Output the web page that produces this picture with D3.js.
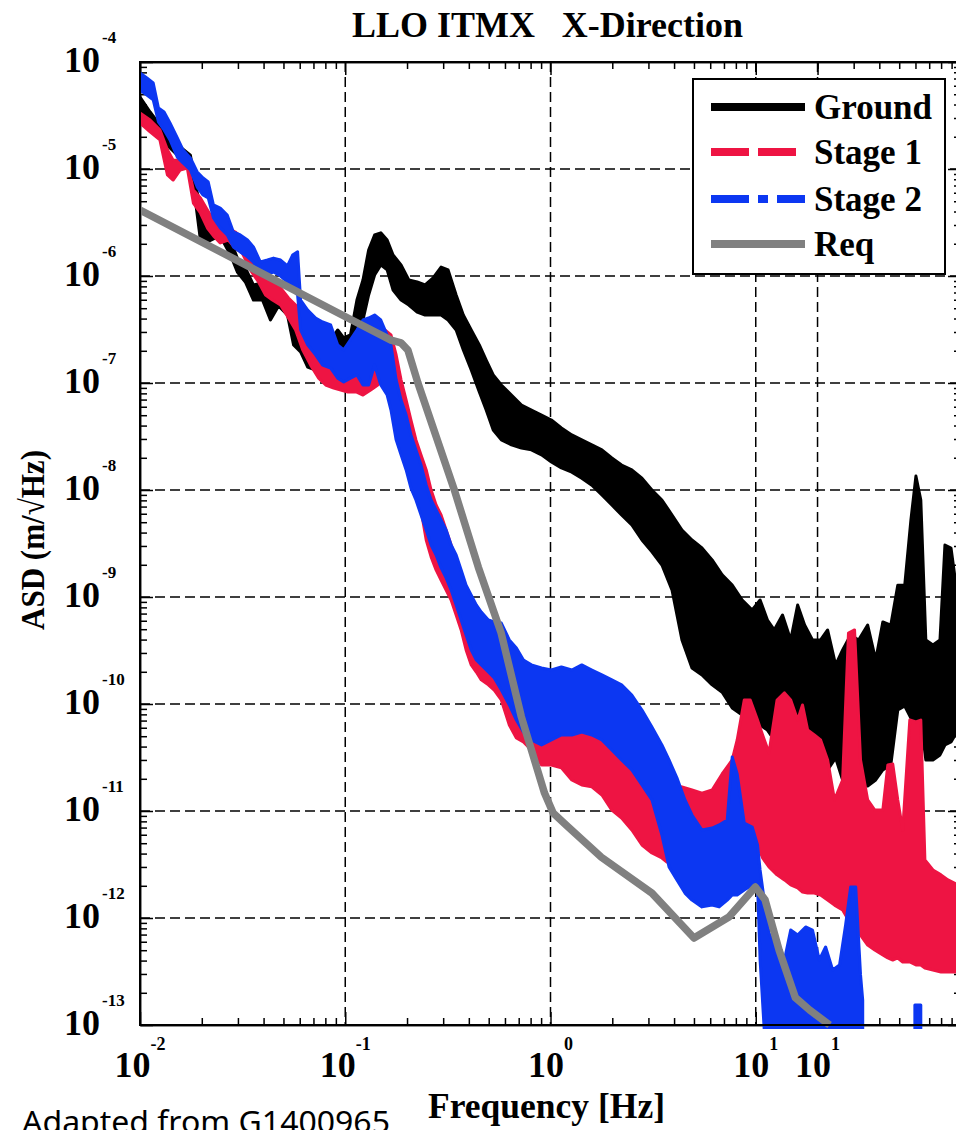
<!DOCTYPE html>
<html><head><meta charset="utf-8">
<script src="https://cdn.jsdelivr.net/npm/d3@7"></script>
<style>body{margin:0;background:#fff;} svg{display:block;}</style>
</head><body>
<script>
// ---- DATA ----
// band series: [frequency Hz, upper ASD, lower ASD]
const groundBand = [
[0.0100,4.71e-5,3.56e-5],[0.0112,3.41e-5,2.58e-5],[0.0125,2.58e-5,1.95e-5],[0.0140,1.95e-5,1.57e-5],
[0.0157,1.61e-5,1.27e-5],[0.0176,1.35e-5,1.09e-5],[0.0186,7.08e-6,5.13e-6],[0.0197,4.61e-6,2.17e-6],
[0.0213,2.81e-6,2.08e-6],[0.0233,2.81e-6,2.27e-6],[0.0252,2.81e-6,2.17e-6],[0.0276,2.17e-6,1.57e-6],
[0.0298,1.47e-6,1.09e-6],[0.0326,1.19e-6,8.79e-7],[0.0357,8.24e-7,5.96e-7],[0.0395,8.60e-7,5.96e-7],
[0.0432,6.64e-7,3.88e-7],[0.0473,6.50e-7,5.24e-7],[0.0523,5.96e-7,4.32e-7],[0.0560,3.49e-7,2.27e-7],
[0.0606,3.00e-7,1.95e-7],[0.0656,2.27e-7,1.41e-7],[0.0717,2.04e-7,1.32e-7],[0.0776,2.27e-7,1.57e-7],
[0.0849,2.53e-7,1.71e-7],[0.0919,3.13e-7,2.04e-7],[0.0983,2.64e-7,1.75e-7],[0.106,2.81e-7,1.83e-7],
[0.114,5.96e-7,2.53e-7],[0.122,9.18e-7,3.88e-7],[0.130,1.75e-6,6.64e-7],[0.139,2.42e-6,1.02e-6],
[0.149,2.53e-6,1.27e-6],[0.160,2.17e-6,1.14e-6],[0.171,1.57e-6,7.40e-7],[0.187,1.27e-6,5.96e-7],
[0.204,9.18e-7,5.36e-7],[0.224,8.79e-7,4.61e-7],[0.245,8.24e-7,4.32e-7],[0.268,9.58e-7,4.32e-7],
[0.293,1.21e-6,4.32e-7],[0.317,1.14e-6,3.88e-7],[0.347,6.64e-7,3.13e-7],[0.376,4.32e-7,2.04e-7],
[0.411,3.13e-7,1.32e-7],[0.450,2.27e-7,8.24e-8],[0.486,1.64e-7,5.59e-8],[0.526,1.19e-7,3.64e-8],
[0.576,9.58e-8,2.94e-8],[0.645,7.72e-8,2.64e-8],[0.722,6.23e-8,2.47e-8],[0.807,5.59e-8,2.37e-8],
[0.904,5.02e-8,2.13e-8],[1.01,4.51e-8,1.83e-8],[1.13,3.80e-8,1.61e-8],[1.27,3.27e-8,1.47e-8],
[1.42,2.94e-8,1.29e-8],[1.59,2.64e-8,1.11e-8],[1.78,2.37e-8,8.98e-9],[1.99,1.99e-8,7.24e-9],
[2.22,1.71e-8,5.84e-9],[2.49,1.54e-8,4.71e-9],[2.79,1.29e-8,3.41e-9],[3.12,1.00e-8,2.64e-9],
[3.49,8.06e-9,1.99e-9],[3.91,5.84e-9,1.16e-9],[4.37,4.23e-9,3.97e-10],[4.89,3.41e-9,2.17e-10],
[5.47,2.87e-9,1.87e-10],[6.13,2.22e-9,1.51e-10],[6.86,1.61e-9,1.29e-10],[7.68,1.29e-9,9.18e-11],
[8.59,9.38e-10,7.89e-11],[9.61,7.56e-10,7.08e-11],[10.5,9.38e-10,6.36e-11],[11.4,6.09e-10,5.71e-11],
[12.3,4.92e-10,4.61e-11],[13.5,6.79e-10,4.14e-11],[14.8,3.97e-10,4.14e-11],[16.0,8.42e-10,3.72e-11],
[17.3,5.47e-10,4.14e-11],[18.9,3.97e-10,3.00e-11],[20.7,3.97e-10,2.87e-11],[22.4,4.92e-10,2.42e-11],
[24.5,2.32e-10,3.13e-11],[26.5,3.20e-10,1.95e-11],[29.0,4.42e-10,1.68e-11],[31.7,3.97e-10,1.71e-11],
[35.1,5.47e-10,1.71e-11],[38.4,2.58e-10,1.95e-11],[41.6,5.84e-10,2.42e-11],[45.5,5.47e-10,2.69e-11],
[49.2,1.29e-9,8.79e-11],[53.2,1.29e-9,9.58e-11],[57.0,5.24e-9,7.40e-11],[60.3,1.35e-8,7.08e-11],
[63.7,8.06e-9,7.08e-11],[67.4,3.97e-10,3.00e-11],[73.0,3.56e-10,3.00e-11],[79.0,3.97e-10,3.34e-11],
[83.5,3.06e-9,4.14e-11],[89.4,2.87e-9,4.42e-11],[96.7,9.38e-10,5.71e-11]
];
const stage1Band = [
[0.0100,3.34e-5,2.69e-5],[0.0112,2.87e-5,2.22e-5],[0.0125,2.32e-5,1.87e-5],[0.0136,1.51e-5,8.79e-6],
[0.0145,1.21e-5,7.89e-6],[0.0157,1.21e-5,9.79e-6],[0.0170,1.16e-5,1.02e-5],[0.0182,6.36e-6,4.81e-6],
[0.0197,5.36e-6,3.88e-6],[0.0213,4.14e-6,2.81e-6],[0.0228,3.34e-6,2.37e-6],[0.0246,2.69e-6,2.04e-6],
[0.0269,2.81e-6,2.17e-6],[0.0291,2.58e-6,1.83e-6],[0.0315,2.27e-6,1.64e-6],[0.0345,1.57e-6,1.14e-6],
[0.0378,1.27e-6,8.79e-7],[0.0409,1.02e-6,6.64e-7],[0.0442,8.79e-7,5.96e-7],[0.0484,7.72e-7,5.36e-7],
[0.0529,6.23e-7,4.05e-7],[0.0573,5.36e-7,3.13e-7],[0.0620,3.88e-7,2.04e-7],[0.0678,2.81e-7,1.47e-7],
[0.0742,2.27e-7,1.11e-7],[0.0803,1.83e-7,9.58e-8],[0.0879,1.64e-7,8.98e-8],[0.0951,1.47e-7,8.60e-8],
[0.103,1.38e-7,8.24e-8],[0.113,1.64e-7,8.24e-8],[0.122,2.04e-7,7.72e-8],[0.133,2.27e-7,8.60e-8],
[0.144,3.13e-7,9.58e-8],[0.156,3.13e-7,1.32e-7],[0.167,2.81e-7,9.58e-8],[0.177,1.83e-7,4.51e-8],
[0.187,1.07e-7,2.64e-8],[0.198,6.93e-8,1.91e-8],[0.209,4.51e-8,1.44e-8],[0.221,2.94e-8,1.00e-8],
[0.234,2.13e-8,6.50e-9],[0.248,1.54e-8,3.41e-9],[0.262,1.00e-8,2.37e-9],[0.277,7.24e-9,1.79e-9],
[0.293,5.84e-9,1.44e-9],[0.310,4.23e-9,1.16e-9],[0.328,3.06e-9,9.38e-10],[0.347,2.22e-9,6.79e-10],
[0.367,1.61e-9,4.92e-10],[0.388,1.16e-9,3.20e-10],[0.411,8.42e-10,2.32e-10],[0.435,6.79e-10,1.99e-10],
[0.460,5.47e-10,1.68e-10],[0.498,3.97e-10,1.51e-10],[0.532,3.20e-10,1.35e-10],[0.576,2.32e-10,1.09e-10],
[0.630,1.68e-10,6.36e-11],[0.682,1.35e-10,4.81e-11],[0.738,1.09e-10,4.42e-11],[0.807,7.08e-11,3.72e-11],
[0.904,5.96e-11,2.69e-11],[1.01,6.36e-11,2.69e-11],[1.13,7.08e-11,2.53e-11],[1.27,7.40e-11,1.95e-11],
[1.42,6.79e-11,1.75e-11],[1.59,5.71e-11,1.68e-11],[1.78,5.13e-11,1.41e-11],[1.99,4.14e-11,1.02e-11],
[2.22,3.56e-11,8.60e-12],[2.49,3.34e-11,6.64e-12],[2.79,2.69e-11,4.81e-12],[3.12,2.42e-11,4.05e-12],
[3.49,2.04e-11,3.64e-12],[3.69,2.04e-11,3.34e-12],[3.91,1.75e-11,3.34e-12],[4.37,1.68e-11,5.36e-12],
[4.89,1.57e-11,6.23e-12],[5.47,1.47e-11,6.23e-12],[6.13,1.57e-11,6.64e-12],[6.86,2.22e-11,7.40e-12],
[7.68,3.00e-11,8.24e-12],[8.12,4.61e-11,9.18e-12],[8.79,1.09e-10,6.64e-12],[9.40,1.09e-10,6.64e-12],
[10.2,7.08e-11,4.81e-12],[10.8,5.13e-11,3.64e-12],[11.6,3.49e-11,3.00e-12],[12.7,1.09e-10,2.53e-12],
[13.8,1.27e-10,2.27e-12],[14.8,1.09e-10,2.04e-12],[16.0,7.08e-11,1.91e-12],[16.9,9.79e-11,1.75e-12],
[17.9,5.71e-11,1.71e-12],[19.3,5.13e-11,1.71e-12],[20.7,4.61e-11,1.64e-12],[22.4,3.00e-11,1.47e-12],
[24.2,1.27e-11,1.32e-12],[26.5,1.95e-11,1.19e-12],[28.3,4.61e-10,9.58e-13],[30.3,4.92e-10,7.72e-13],
[32.4,3.00e-11,6.93e-13],[35.1,1.27e-11,5.59e-13],[38.0,1.02e-11,5.02e-13],[41.6,1.02e-11,4.51e-13],
[44.0,2.69e-11,4.23e-13],[46.5,2.75e-11,4.05e-13],[49.2,1.27e-11,4.23e-13],[52.0,6.64e-12,3.88e-13],
[56.3,7.08e-11,3.88e-13],[60.3,6.79e-11,3.64e-13],[63.7,7.08e-11,3.64e-13],[66.7,3.49e-12,3.41e-13],
[73.0,2.81e-12,3.27e-13],[79.9,2.53e-12,3.13e-13],[86.4,2.27e-12,3.13e-13],[96.7,2.04e-12,3.13e-13]
];
const stage2Band = [
[0.0100,7.89e-5,5.47e-5],[0.0108,7.08e-5,4.92e-5],[0.0116,6.36e-5,4.42e-5],[0.0123,3.72e-5,2.75e-5],
[0.0131,3.41e-5,2.32e-5],[0.0140,2.69e-5,1.87e-5],[0.0152,1.95e-5,1.29e-5],[0.0162,1.51e-5,1.14e-5],
[0.0176,1.27e-5,9.79e-6],[0.0190,9.38e-6,6.79e-6],[0.0203,8.24e-6,5.71e-6],[0.0215,7.56e-6,5.36e-6],
[0.0228,4.61e-6,3.49e-6],[0.0246,4.32e-6,2.81e-6],[0.0266,3.72e-6,2.42e-6],[0.0285,2.58e-6,1.87e-6],
[0.0308,2.42e-6,1.68e-6],[0.0334,2.17e-6,1.51e-6],[0.0357,1.87e-6,1.35e-6],[0.0386,1.35e-6,1.02e-6],
[0.0418,1.41e-6,1.04e-6],[0.0447,1.47e-6,1.09e-6],[0.0484,1.41e-6,1.00e-6],[0.0523,1.24e-6,8.79e-7],
[0.0554,1.57e-6,7.40e-7],[0.0586,1.68e-6,6.64e-7],[0.0606,5.96e-7,3.13e-7],[0.0656,4.81e-7,2.27e-7],
[0.0717,4.05e-7,1.83e-7],[0.0776,3.72e-7,1.47e-7],[0.0849,3.49e-7,1.38e-7],[0.0919,2.27e-7,1.11e-7],
[0.0983,2.04e-7,1.02e-7],[0.106,2.53e-7,1.11e-7],[0.114,3.13e-7,1.19e-7],[0.122,3.88e-7,9.58e-8],
[0.130,4.05e-7,9.58e-8],[0.139,4.32e-7,1.47e-7],[0.149,3.88e-7,9.58e-8],[0.160,2.81e-7,7.72e-8],
[0.167,2.27e-7,5.59e-8],[0.177,1.07e-7,2.94e-8],[0.187,6.93e-8,2.13e-8],[0.198,5.02e-8,1.54e-8],
[0.209,3.27e-8,1.04e-8],[0.221,2.37e-8,8.06e-9],[0.234,1.71e-8,5.84e-9],[0.248,1.11e-8,4.23e-9],
[0.262,8.06e-9,3.06e-9],[0.277,6.50e-9,2.47e-9],[0.293,5.24e-9,1.87e-9],[0.310,4.23e-9,1.51e-9],
[0.328,3.06e-9,1.16e-9],[0.347,2.47e-9,8.42e-10],[0.367,1.79e-9,6.09e-10],[0.388,1.29e-9,4.42e-10],
[0.411,1.04e-9,3.20e-10],[0.435,8.42e-10,2.58e-10],[0.460,7.24e-10,2.32e-10],[0.498,6.09e-10,1.99e-10],
[0.532,5.84e-10,1.75e-10],[0.576,5.71e-10,1.35e-10],[0.630,3.97e-10,9.79e-11],[0.682,3.34e-10,7.08e-11],
[0.738,2.58e-10,5.47e-11],[0.807,2.32e-10,4.61e-11],[0.904,2.17e-10,4.14e-11],[1.01,2.08e-10,4.61e-11],
[1.13,2.22e-10,5.13e-11],[1.27,2.08e-10,5.13e-11],[1.42,2.32e-10,5.47e-11],[1.59,2.08e-10,5.13e-11],
[1.78,1.87e-10,4.61e-11],[1.99,1.68e-10,3.72e-11],[2.22,1.51e-10,3.00e-11],[2.49,1.21e-10,2.42e-11],
[2.79,8.79e-11,1.75e-11],[3.12,6.09e-11,1.27e-11],[3.49,4.14e-11,5.96e-12],[3.78,3.00e-11,3.00e-12],
[4.13,2.04e-11,2.27e-12],[4.52,1.27e-11,1.71e-12],[4.89,9.18e-12,1.47e-12],[5.47,6.64e-12,1.27e-12],
[6.13,6.93e-12,1.32e-12],[6.63,7.40e-12,1.27e-12],[7.26,8.24e-12,1.47e-12],[7.68,3.20e-11,1.64e-12],
[8.12,2.22e-11,1.64e-12],[8.79,7.72e-12,1.83e-12],[9.61,7.08e-12,2.04e-12],[10.2,4.81e-12,2.04e-12],
[10.5,2.81e-12,4.05e-13],[11.0,1.47e-12,8.98e-14],[11.6,7.24e-13,8.98e-14],[12.7,5.02e-13,8.98e-14],
[13.8,4.05e-13,8.98e-14],[14.8,7.72e-13,8.98e-14],[16.0,6.93e-13,8.98e-14],[17.5,8.24e-13,8.98e-14],
[18.9,7.72e-13,8.98e-14],[20.4,4.05e-13,8.98e-14],[21.9,5.36e-13,8.98e-14],[23.7,3.27e-13,8.98e-14],
[25.6,3.64e-13,8.98e-14],[27.4,8.60e-13,8.98e-14],[29.0,1.95e-12,8.98e-14],[30.7,1.95e-12,8.98e-14],
[32.4,2.94e-13,8.98e-14],[33.2,1.71e-13,8.98e-14],null,
[59.6,1.54e-13,8.98e-14],[63.7,1.54e-13,8.98e-14]
];
// requirement curve: [frequency Hz, ASD]
const reqCurve = [
[0.0100,4.14e-6],[0.103,4.05e-7],[0.167,2.52e-7],[0.187,2.37e-7],[0.202,2.03e-7],[0.226,1.0e-7],
[0.34,1.0e-8],[0.445,1.9e-9],[0.575,4.6e-10],[0.721,7.6e-11],[0.935,1.47e-11],[1.03,9.6e-12],
[1.22,7.1e-12],[1.77,3.7e-12],[3.12,1.71e-12],[5.0,6.5e-13],[7.4,1.02e-12],[9.95,1.95e-12],
[11.1,1.48e-12],[13.0,5.0e-13],[15.6,1.8e-13],[18.3,1.38e-13],[22.9,1.0e-13]
];
const xTickValues = [0.01, 0.1, 1, 10, 20];
const xTickExponents = ["-2", "-1", "0", "1", "1"];
const yTickValues = [1e-4,1e-5,1e-6,1e-7,1e-8,1e-9,1e-10,1e-11,1e-12,1e-13];
const yTickExponents = ["-4","-5","-6","-7","-8","-9","-10","-11","-12","-13"];
const legendLabels = ["Ground", "Stage 1", "Stage 2", "Req"];
const titleText = "LLO ITMX   X-Direction";
const xTitle = "Frequency [Hz]";
const yTitle = "ASD (m/\u221AHz)";
const footText = "Adapted from G1400965";

// ---- DRAWING ----
const W = 956, H = 1130;
const L = 140, R = 961, T = 62, B = 1025;
const RED = "#ee1443", BLUE = "#0c37f2", GREY = "#808080";
const SERIF = "'Liberation Serif','Times New Roman',serif";

const x = d3.scaleLog().domain([0.01, 100]).range([L, R]);
const y = d3.scaleLog().domain([1e-13, 1e-4]).range([B, T]);

const svg = d3.select("body").append("svg").attr("width", W).attr("height", H);
svg.append("rect").attr("width", W).attr("height", H).attr("fill", "#fff");
svg.append("defs").append("clipPath").attr("id", "plotclip")
  .append("rect").attr("x", L).attr("y", T).attr("width", R - L).attr("height", B - T + 4);

// grid
const grid = svg.append("g").attr("stroke", "#000").attr("stroke-width", 1.5).attr("stroke-dasharray", "10,5");
xTickValues.slice(1).forEach(v => grid.append("line").attr("x1", x(v)).attr("x2", x(v)).attr("y1", T).attr("y2", B));
yTickValues.slice(1, -1).forEach(v => grid.append("line").attr("x1", L).attr("x2", R).attr("y1", y(v)).attr("y2", y(v)));

// minor tick positions
const xMinor = [];
for (let e = -2; e <= 1; e++) for (let m = 2; m <= 9; m++) xMinor.push(+(m * Math.pow(10, e)).toPrecision(3));
const yMinor = [];
for (let e = -13; e <= -5; e++) for (let m = 2; m <= 9; m++) yMinor.push(+(m * Math.pow(10, e)).toPrecision(3));

function styleAxis(g) {
  g.selectAll("path,line").attr("stroke", "#000").attr("stroke-width", 1.5);
  g.selectAll("text").remove();
}
svg.append("g").attr("transform", `translate(0,${B})`).call(d3.axisBottom(x).tickValues(xMinor).tickSize(-7).tickSizeOuter(0).tickFormat("")).call(styleAxis);
svg.append("g").attr("transform", `translate(0,${T})`).call(d3.axisTop(x).tickValues(xMinor).tickSize(-7).tickSizeOuter(0).tickFormat("")).call(styleAxis);
svg.append("g").attr("transform", `translate(0,${B})`).call(d3.axisBottom(x).tickValues(xTickValues).tickSize(-13).tickSizeOuter(0).tickFormat("")).call(styleAxis);
svg.append("g").attr("transform", `translate(0,${T})`).call(d3.axisTop(x).tickValues(xTickValues).tickSize(-13).tickSizeOuter(0).tickFormat("")).call(styleAxis);
svg.append("g").attr("transform", `translate(${L},0)`).call(d3.axisLeft(y).tickValues(yMinor).tickSize(-7).tickSizeOuter(0).tickFormat("")).call(styleAxis);
svg.append("g").attr("transform", `translate(${R},0)`).call(d3.axisRight(y).tickValues(yMinor).tickSize(-7).tickSizeOuter(0).tickFormat("")).call(styleAxis);
svg.append("g").attr("transform", `translate(${L},0)`).call(d3.axisLeft(y).tickValues(yTickValues).tickSize(-13).tickSizeOuter(0).tickFormat("")).call(styleAxis);
svg.append("g").attr("transform", `translate(${R},0)`).call(d3.axisRight(y).tickValues(yTickValues).tickSize(-13).tickSizeOuter(0).tickFormat("")).call(styleAxis);

// data
const plot = svg.append("g").attr("clip-path", "url(#plotclip)");
const band = d3.area().defined(d => d != null).x(d => x(d[0])).y0(d => y(d[2])).y1(d => y(d[1]));
[[groundBand, "#000"], [stage1Band, RED], [stage2Band, BLUE]].forEach(([data, col]) => {
  plot.append("path").datum(data).attr("d", band)
    .attr("fill", col).attr("stroke", col).attr("stroke-width", 3).attr("stroke-linejoin", "round");
});
const reqLine = d3.line().x(d => x(d[0])).y(d => y(d[1]));
plot.append("path").datum(reqCurve).attr("d", reqLine)
  .attr("fill", "none").attr("stroke", GREY).attr("stroke-width", 7.5).attr("stroke-linejoin", "round");

// frame
svg.append("rect").attr("x", L).attr("y", T).attr("width", R - L).attr("height", B - T)
  .attr("fill", "none").attr("stroke", "#000").attr("stroke-width", 2);

// legend
const lg = svg.append("g");
lg.append("rect").attr("x", 693).attr("y", 79).attr("width", 252).attr("height", 195)
  .attr("fill", "#fff").attr("stroke", "#000").attr("stroke-width", 2);
const legCols = ["#000", RED, BLUE, GREY];
const legDash = [null, "38,9", "38,9,10,9", null];
const legY = [107, 152, 199, 244];
legendLabels.forEach((lab, i) => {
  lg.append("line").attr("x1", 711).attr("x2", 805).attr("y1", legY[i]).attr("y2", legY[i])
    .attr("stroke", legCols[i]).attr("stroke-width", 8).attr("stroke-dasharray", legDash[i]);
  lg.append("text").attr("x", 814).attr("y", legY[i] + 12).text(lab)
    .attr("font-family", SERIF).attr("font-weight", "bold").attr("font-size", 35).attr("fill", "#000");
});

// tick labels
yTickValues.forEach((v, i) => {
  const ty = y(v);
  svg.append("text").attr("x", 100).attr("y", ty + 10).attr("text-anchor", "end").text("10")
    .attr("font-family", SERIF).attr("font-weight", "bold").attr("font-size", 36);
  svg.append("text").attr("x", 102).attr("y", ty - 19).text(yTickExponents[i])
    .attr("font-family", SERIF).attr("font-weight", "bold").attr("font-size", 17);
});
xTickValues.forEach((v, i) => {
  const t = svg.append("text").attr("x", x(v)).attr("y", 1077).attr("text-anchor", "middle")
    .attr("font-family", SERIF).attr("font-weight", "bold");
  t.append("tspan").attr("font-size", 36).text("10");
  t.append("tspan").attr("font-size", 18).attr("dy", -27).text(xTickExponents[i]);
});

// titles
svg.append("text").attr("x", 352).attr("y", 37).text(titleText)
  .attr("font-family", SERIF).attr("font-weight", "bold").attr("font-size", 36)
  .attr("style", "white-space:pre").attr("textLength", 391).attr("lengthAdjust", "spacingAndGlyphs");
svg.append("text").attr("x", 428).attr("y", 1118).text(xTitle)
  .attr("font-family", SERIF).attr("font-weight", "bold").attr("font-size", 36)
  .attr("textLength", 237).attr("lengthAdjust", "spacingAndGlyphs");
svg.append("text").attr("transform", "translate(44,540) rotate(-90)").attr("text-anchor", "middle").text(yTitle)
  .attr("font-family", SERIF).attr("font-weight", "bold").attr("font-size", 34)
  .attr("textLength", 180).attr("lengthAdjust", "spacingAndGlyphs");
svg.append("text").attr("x", 22).attr("y", 1133).text(footText)
  .attr("font-family", "'Noto Sans','Open Sans',sans-serif").attr("font-size", 30)
  .attr("textLength", 368).attr("lengthAdjust", "spacingAndGlyphs");
</script>
</body></html>
